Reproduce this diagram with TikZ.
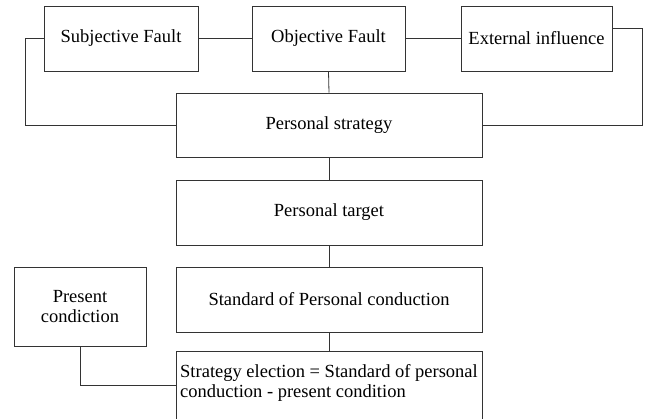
\documentclass[tikz,border=0pt]{standalone}
\usepackage{fontspec}
\setmainfont{Liberation Serif}
\usetikzlibrary{positioning}

\tikzset{
	box/.style={draw=black!80, line width=0.8pt, rectangle, inner sep=2pt, font=\fontsize{18.5}{20}\selectfont},
	link/.style={draw=black!80, line width=0.8pt}
}

\begin{document}
\begin{tikzpicture}[x=1pt,y=-1pt]
	\useasboundingbox (0,0) rectangle (646,419);
	% top row
	\node (subj) [box, minimum width=154pt, minimum height=65pt] at (121,38.5) {Subjective Fault};
	\node (obj) [box, minimum width=153pt, minimum height=65pt] at (328.5,38.5) {Objective Fault};
	\node (ext) [box, minimum width=151pt, minimum height=65pt] at (536.5,38.5) {External influence};
	% main column
	\node (ps) [box, minimum width=306pt, minimum height=64pt] at (329,125) {Personal strategy};
	\node (pt) [box, minimum width=306pt, minimum height=65pt] at (329,212.5) {Personal target};
	\node (std) [box, minimum width=306pt, minimum height=65pt] at (329,299.5) {Standard of Personal conduction};
	\node (sel) [box, minimum width=306pt, minimum height=80pt, align=left] at (329,391) {Strategy election = Standard of personal\\ conduction - present condition\\ ~};
	\node (pres) [box, minimum width=132pt, minimum height=79pt, align=center] at (80,306.5) {Present\\ condiction};
	% turning points
	\coordinate (lturn) at (25,125);
	\coordinate (rturn) at (642,125);
	% connectors
	\draw [link] (subj.east) -- (obj.west);
	\draw [link] (obj.east) -- (ext.west);
	\draw [link] (subj.west) -| (lturn) -- (ps.west);
	\draw [link] ([yshift=10pt]ext.east) -| (rturn) -- (ps.east);
	\draw [link] (obj.south) -- (ps.north);
	\draw [link] (ps.south) -- (pt.north);
	\draw [link] (pt.south) -- (std.north);
	\draw [link] (std.south) -- (sel.north);
	\draw [link] (pres.south) |- ([yshift=6pt]sel.west);
\end{tikzpicture}
\end{document}
